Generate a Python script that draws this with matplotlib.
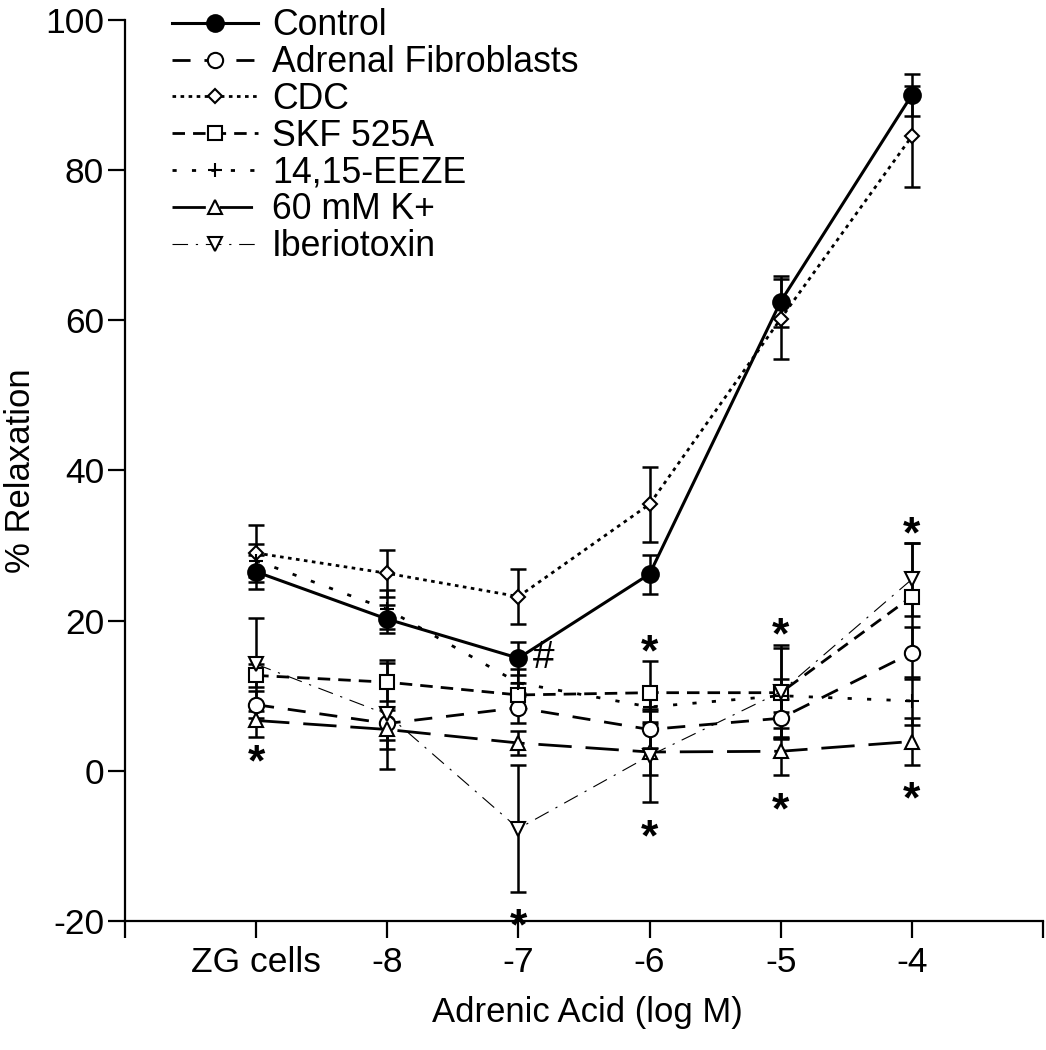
import matplotlib
matplotlib.use("Agg")
import matplotlib.pyplot as plt

plt.rcParams['font.family'] = ['Liberation Sans', 'DejaVu Sans']
plt.rcParams['axes.unicode_minus'] = False

# ---- data ----
categories = ['ZG cells', '-8', '-7', '-6', '-5', '-4']
xpos = [0, 1, 2, 3, 4, 5]

control = [26.5, 20.2, 15.0, 26.2, 62.5, 90.0]
control_err = [2.3, 1.9, 2.2, 2.6, 3.4, 2.8]
fibro = [8.8, 6.3, 8.4, 5.5, 7.0, 15.7]
fibro_err = [1.8, 2.2, 2.0, 2.4, 2.5, 3.5]
cdc = [29.0, 26.3, 23.2, 35.5, 60.2, 84.5]
cdc_err = [3.8, 3.1, 3.7, 5.0, 5.3, 6.7]
skf = [12.7, 11.8, 10.1, 10.4, 10.4, 23.2]
skf_err = [1.5, 2.5, 1.6, 4.2, 6.0, 7.2]
eeze = [28.0, 21.5, 11.7, 8.5, 10.0, 9.3]
eeze_err = [2.2, 2.6, 1.8, 2.0, 2.2, 3.2]
kplus = [6.7, 5.5, 3.7, 2.5, 2.6, 3.9]
kplus_err = [2.2, 2.6, 1.6, 3.0, 3.1, 3.1]
iberio = [14.2, 7.5, -7.7, 2.0, 10.5, 25.5]
iberio_err = [6.2, 7.3, 8.5, 6.2, 6.3, 4.9]

star_x = [0, 2, 3, 3, 4, 4, 5, 5]
star_y = [2.8, -19.0, 17.5, -7.2, 19.7, -3.6, 33.2, -2.1]
hash_x, hash_y = 2, 15.0

yticks = [-20, 0, 20, 40, 60, 80, 100]

series = [
    ('Control', control, control_err, dict(ls='-', lw=2.2, marker='o', ms=12, mfc='black')),
    ('Adrenal Fibroblasts', fibro, fibro_err, dict(ls=(0, (6.5, 5)), lw=2.0, marker='o', ms=11, mfc='white')),
    ('CDC', cdc, cdc_err, dict(ls=(0, (1.3, 1.6)), lw=2.0, marker='D', ms=7.5, mfc='white')),
    ('SKF 525A', skf, skf_err, dict(ls=(0, (4.5, 2.9)), lw=2.0, marker='s', ms=9.5, mfc='white')),
    ('14,15-EEZE', eeze, eeze_err, dict(ls=(0, (1.5, 5.5)), lw=2.0, marker='+', ms=10, mfc='white')),
    ('60 mM K+', kplus, kplus_err, dict(ls=(0, (12, 5)), lw=2.0, marker='^', ms=10, mfc='white')),
    ('Iberiotoxin', iberio, iberio_err, dict(ls=(0, (14, 7, 2, 7)), lw=0.8, marker='v', ms=10, mfc='white')),
]

fig = plt.figure(figsize=(10.46, 10.5), dpi=100)
ax = fig.add_axes([0.1195, 0.1229, 0.8776, 0.8581])

handles = []
for name, vals, errs, st in series:
    ax.errorbar(xpos, vals, yerr=errs, fmt='none', ecolor='black', elinewidth=1.8,
                capsize=5.5, capthick=1.8, zorder=2)
    h, = ax.plot(xpos, vals, color='black', linestyle=st['ls'], linewidth=st['lw'],
                 marker=st['marker'], markersize=st['ms'], markerfacecolor=st['mfc'],
                 markeredgecolor='black', markeredgewidth=1.5, zorder=3, label=name)
    handles.append(h)

star_fs = 32
for sx, sy in zip(star_x, star_y):
    ax.annotate('*', xy=(sx, sy), xytext=(0, -0.575 * star_fs), textcoords='offset points',
                ha='center', va='baseline', fontsize=star_fs, fontweight='bold',
                annotation_clip=False, zorder=5)
ax.annotate('#', xy=(hash_x, hash_y), xytext=(18, 0), textcoords='offset points',
            ha='center', va='center', fontsize=28, zorder=5)

ax.set_xlim(-1, 6)
ax.set_ylim(-20, 100)
ax.set_xticks([-1] + xpos + [6])
ax.set_xticklabels([''] + categories + [''])
ax.set_yticks(yticks)
ax.set_yticklabels([str(v) for v in yticks])

for s in ['top', 'right']:
    ax.spines[s].set_visible(False)
for s in ['left', 'bottom']:
    ax.spines[s].set_linewidth(1.6)

ax.tick_params(axis='both', direction='out', length=12, width=1.6, labelsize=25.5)
ax.tick_params(axis='x', pad=6)
ax.tick_params(axis='y', pad=3)

ax.set_xlabel('Adrenic Acid (log M)', fontsize=24.9)
ax.set_ylabel('% Relaxation', fontsize=24.9)
ax.xaxis.set_label_coords(0.504, -0.083)
ax.yaxis.set_label_coords(-0.096, 0.5)

fig.legend(handles=handles, loc='upper left', bbox_to_anchor=(172 / 1046, 0.992),
           frameon=False, fontsize=25.7, handlelength=2.4, handletextpad=0.4,
           labelspacing=0.05, borderpad=0, borderaxespad=0, numpoints=1)

fig.savefig('out.png', dpi=100)
